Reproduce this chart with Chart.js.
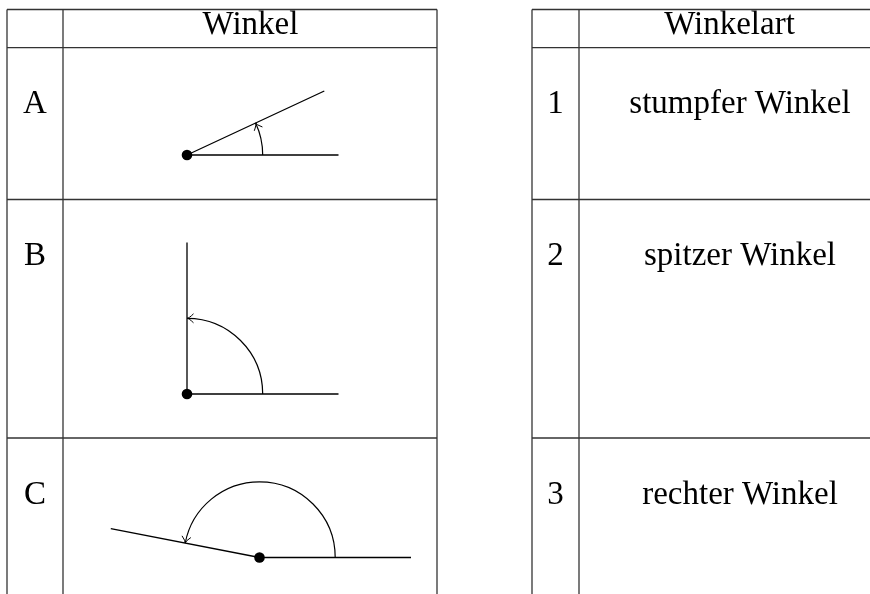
<!DOCTYPE html>
<html>
<head>
<meta charset="utf-8">
<script src="https://cdn.jsdelivr.net/npm/chart.js@4.4.0/dist/chart.umd.min.js"></script>
<style>
  body { margin: 0; background: #fff; }
  #wrap { width: 870px; height: 594px; }
</style>
</head>
<body>
<div id="wrap"><canvas id="myChart" width="870" height="594"></canvas></div>
<script>
var headerLeft = 'Winkel';
var headerRight = 'Winkelart';
var rowLabels = ['A', 'B', 'C'];
var typeNumbers = ['1', '2', '3'];
var typeNames = ['stumpfer Winkel', 'spitzer Winkel', 'rechter Winkel'];

// one angle per row: opening in degrees, vertex in drawing units
var angleDegrees = [25, 90, 169];
var vertexX = [187, 187, 259.5];
var vertexY = [155, 394, 557.5];
var rayLength = 151.5;
var arcRadius = 75.7;

var FONT = '33px "Liberation Serif", "DejaVu Serif", serif';
var INK = '#000';
var GRID = '#333';

// table layout (pixels)
var rowTops = [47.7, 199.5, 438];
var leftCols = [7, 63, 437];
var rightCols = [532, 579, 880];
var tableTop = 9.5;

function toRad(d) { return d * Math.PI / 180; }

var rayData = [];
for (var i = 0; i < angleDegrees.length; i++) {
  var a = toRad(angleDegrees[i]);
  rayData.push([
    { x: vertexX[i] + rayLength, y: vertexY[i] },
    { x: vertexX[i], y: vertexY[i] },
    { x: vertexX[i] + rayLength * Math.cos(a), y: vertexY[i] - rayLength * Math.sin(a) }
  ]);
}
var vertexData = vertexX.map(function (x, i) { return { x: x, y: vertexY[i] }; });

var tablePlugin = {
  id: 'tablePlugin',
  beforeDatasetsDraw: function (chart) {
    var ctx = chart.ctx;
    var H = chart.height;
    ctx.save();
    ctx.strokeStyle = GRID;
    ctx.lineWidth = 1.3;
    function hline(x1, x2, y) { ctx.beginPath(); ctx.moveTo(x1, y); ctx.lineTo(x2, y); ctx.stroke(); }
    function vline(x, y1, y2) { ctx.beginPath(); ctx.moveTo(x, y1); ctx.lineTo(x, y2); ctx.stroke(); }
    [leftCols, rightCols].forEach(function (cols) {
      hline(cols[0], cols[2], tableTop);
      hline(cols[0], cols[2], rowTops[0]);
      hline(cols[0], cols[2], rowTops[1]);
      hline(cols[0], cols[2], rowTops[2]);
      cols.forEach(function (x) { vline(x, tableTop, H); });
    });

    ctx.fillStyle = INK;
    ctx.font = FONT;
    ctx.textAlign = 'center';
    ctx.textBaseline = 'alphabetic';
    ctx.fillText(headerLeft, 250.5, 33.5);
    ctx.fillText(headerRight, 729.5, 33.5);
    for (var i = 0; i < rowLabels.length; i++) {
      var base = rowTops[i] + 65.5;
      ctx.fillText(rowLabels[i], (leftCols[0] + leftCols[1]) / 2, base);
      ctx.fillText(typeNumbers[i], (rightCols[0] + rightCols[1]) / 2, base);
      ctx.fillText(typeNames[i], 740, base);
    }
    ctx.restore();
  },
  afterDatasetsDraw: function (chart) {
    var ctx = chart.ctx;
    var sx = chart.scales.x, sy = chart.scales.y;
    ctx.save();
    ctx.strokeStyle = INK;
    for (var i = 0; i < angleDegrees.length; i++) {
      var cx = sx.getPixelForValue(vertexX[i]);
      var cy = sy.getPixelForValue(vertexY[i]);
      var r = sx.getPixelForValue(vertexX[i] + arcRadius) - cx;
      var a = toRad(angleDegrees[i]);
      ctx.lineWidth = 1.2;
      ctx.beginPath();
      ctx.arc(cx, cy, r, 0, -a, true);
      ctx.stroke();
      // open arrow head at the end of the arc
      var tx = cx + r * Math.cos(a), ty = cy - r * Math.sin(a);
      var bx = Math.sin(a), by = Math.cos(a);     // backwards along the arc
      var nx = Math.cos(a), ny = -Math.sin(a);    // radial
      var len = 6.5, w = 4.5;
      ctx.lineWidth = 1;
      ctx.beginPath();
      ctx.moveTo(tx + bx * len + nx * w, ty + by * len + ny * w);
      ctx.quadraticCurveTo(tx + bx * 2, ty + by * 2, tx, ty);
      ctx.quadraticCurveTo(tx + bx * 2, ty + by * 2, tx + bx * len - nx * w, ty + by * len - ny * w);
      ctx.stroke();
    }
    ctx.restore();
  }
};

var datasets = rayData.map(function (pts, i) {
  return {
    type: 'line',
    label: 'Winkel ' + rowLabels[i],
    data: pts,
    borderColor: INK,
    borderWidth: 1.3,
    pointRadius: 0,
    fill: false,
    tension: 0
  };
});
datasets.push({
  type: 'scatter',
  label: 'Scheitel',
  data: vertexData,
  pointRadius: 5.3,
  pointHoverRadius: 5.3,
  backgroundColor: INK,
  borderColor: INK,
  borderWidth: 0
});

var ctx = document.getElementById('myChart').getContext('2d');
var myChart = new Chart(ctx, {
  type: 'scatter',
  data: { datasets: datasets },
  options: {
    responsive: false,
    animation: false,
    events: [],
    layout: { padding: 0, autoPadding: false },
    plugins: { legend: { display: false }, tooltip: { enabled: false } },
    scales: {
      x: { type: 'linear', min: 0, max: 870, display: false },
      y: { type: 'linear', min: 0, max: 594, reverse: true, display: false }
    }
  },
  plugins: [tablePlugin]
});
</script>
</body>
</html>
